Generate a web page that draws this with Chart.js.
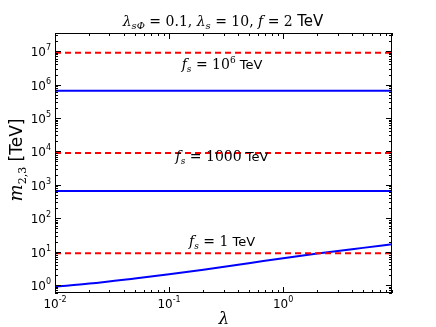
<!DOCTYPE html>
<html lang="en">
<head>
<meta charset="UTF-8">
<title>m23 vs lambda</title>
<script src="https://cdn.jsdelivr.net/npm/chart.js"></script>
<style>
  body { margin: 0; background: #fff; }
  #wrap { width: 436px; height: 327px; }
</style>
</head>
<body>
<div id="wrap"><canvas id="myChart" width="436" height="327"></canvas></div>
<script>
// values
const lambdaVals = [0.01, 0.02, 0.05, 0.1, 0.2, 0.5, 1, 2, 5, 9];
const m23_fs1 = [0.9, 1.11, 1.58, 2.1, 2.87, 4.5, 6.4, 8.8, 13.0, 16.6];
const lambdaEnds = [0.01, 9];
const m23_fs1000 = [650, 650];
const m23_fs1e6 = [6.5e5, 6.5e5];
const redLevels = [9, 9e3, 9e6];
const xTickExps = [-2, -1, 0];
const yTickExps = [0, 1, 2, 3, 4, 5, 6, 7];
const curveLabels = [
  { y: 2.9e6, text: '10', sup: '6' },
  { y: 5e3, text: '1000' },
  { y: 15, text: '1' }
];

const MATH = '"DejaVu Serif", serif';
const SANS = '"DejaVu Sans", sans-serif';

function pts(xs, ys) {
  return xs.map((x, i) => ({ x: x, y: ys[i] }));
}

// draw a row of text pieces with mixed fonts / sub- and superscripts
function drawRuns(ctx, runs, x, y, align) {
  let w = 0;
  runs.forEach(r => { ctx.font = r.f; w += ctx.measureText(r.t).width; });
  let cx = align === 'right' ? x - w : align === 'left' ? x : x - w / 2;
  runs.forEach(r => {
    ctx.font = r.f;
    ctx.fillText(r.t, cx, y + (r.dy || 0));
    cx += ctx.measureText(r.t).width;
  });
}

const decor = {
  id: 'decor',
  afterDraw(chart) {
    const ctx = chart.ctx;
    const a = chart.chartArea;
    const xs = chart.scales.x, ys = chart.scales.y;
    ctx.save();
    ctx.strokeStyle = '#000';
    ctx.fillStyle = '#000';
    ctx.lineWidth = 1;

    // frame
    ctx.strokeRect(a.left + 0.5, a.top + 0.5, a.right - a.left - 1, a.bottom - a.top - 1);

    // inward ticks, all four sides
    ctx.beginPath();
    for (let k = -2; k <= 0; k++) {
      for (let m = 1; m <= 9; m++) {
        const v = m * Math.pow(10, k);
        if (v < xs.min || v > xs.max) continue;
        const px = Math.round(xs.getPixelForValue(v)) + 0.5;
        const len = m === 1 ? 6 : 3;
        ctx.moveTo(px, a.bottom); ctx.lineTo(px, a.bottom - len);
        ctx.moveTo(px, a.top); ctx.lineTo(px, a.top + len);
      }
    }
    for (let k = -1; k <= 7; k++) {
      for (let m = 1; m <= 9; m++) {
        const v = m * Math.pow(10, k);
        if (v < ys.min || v > ys.max) continue;
        const py = Math.round(ys.getPixelForValue(v)) + 0.5;
        const len = m === 1 ? 6 : 3;
        ctx.moveTo(a.left, py); ctx.lineTo(a.left + len, py);
        ctx.moveTo(a.right, py); ctx.lineTo(a.right - len, py);
      }
    }
    ctx.stroke();

    // tick labels
    ctx.textBaseline = 'alphabetic';
    xTickExps.forEach(e => {
      const px = xs.getPixelForValue(Math.pow(10, e));
      drawRuns(ctx, [
        { t: '10', f: '12px ' + SANS },
        { t: String(e), f: '8px ' + SANS, dy: -6 }
      ], px, a.bottom + 15, 'center');
    });
    yTickExps.forEach(e => {
      const py = ys.getPixelForValue(Math.pow(10, e));
      drawRuns(ctx, [
        { t: '10', f: '12px ' + SANS },
        { t: String(e), f: '8px ' + SANS, dy: -6 }
      ], a.left - 4, py + 5, 'right');
    });

    // title
    drawRuns(ctx, [
      { t: 'λ', f: 'italic 14px ' + MATH },
      { t: 'sΦ', f: 'italic 10px ' + MATH, dy: 3 },
      { t: ' = 0.1, ', f: '14px ' + MATH },
      { t: 'λ', f: 'italic 14px ' + MATH },
      { t: 's', f: 'italic 10px ' + MATH, dy: 3 },
      { t: ' = 10, ', f: '14px ' + MATH },
      { t: 'f', f: 'italic 14px ' + MATH },
      { t: ' = 2 ', f: '14px ' + MATH },
      { t: 'TeV', f: '15px ' + SANS }
    ], 223, 26, 'center');

    // curve labels
    curveLabels.forEach(c => {
      const py = ys.getPixelForValue(c.y);
      const runs = [
        { t: 'f', f: 'italic 14px ' + MATH },
        { t: 's', f: 'italic 9px ' + MATH, dy: 3 },
        { t: ' = ' + c.text, f: '14px ' + MATH }
      ];
      if (c.sup) runs.push({ t: c.sup, f: '9px ' + MATH, dy: -6 });
      runs.push({ t: ' TeV', f: '13px ' + SANS });
      drawRuns(ctx, runs, 222, py, 'center');
    });

    // x axis title
    drawRuns(ctx, [{ t: 'λ', f: 'italic 17px ' + MATH }], 224, 324, 'center');

    // y axis title
    ctx.translate(22, 160);
    ctx.rotate(-Math.PI / 2);
    drawRuns(ctx, [
      { t: 'm', f: 'italic 18px ' + MATH },
      { t: '2,3', f: '11px ' + MATH, dy: 4 },
      { t: ' [TeV]', f: '17px ' + SANS }
    ], 0, 0, 'center');
    ctx.restore();
  }
};

const ctx = document.getElementById('myChart').getContext('2d');
const myChart = new Chart(ctx, {
  type: 'line',
  data: {
    datasets: [
      { data: pts(lambdaEnds, [redLevels[0], redLevels[0]]), borderColor: '#ff0000', borderDash: [6, 4] },
      { data: pts(lambdaEnds, [redLevels[1], redLevels[1]]), borderColor: '#ff0000', borderDash: [6, 4] },
      { data: pts(lambdaEnds, [redLevels[2], redLevels[2]]), borderColor: '#ff0000', borderDash: [6, 4] },
      { data: pts(lambdaVals, m23_fs1), borderColor: '#0000ff', cubicInterpolationMode: 'monotone' },
      { data: pts(lambdaEnds, m23_fs1000), borderColor: '#0000ff' },
      { data: pts(lambdaEnds, m23_fs1e6), borderColor: '#0000ff' }
    ]
  },
  options: {
    responsive: false,
    animation: false,
    devicePixelRatio: 1,
    layout: { padding: { left: 55, right: 44, top: 33, bottom: 34 } },
    elements: {
      point: { radius: 0 },
      line: { borderWidth: 2, fill: false }
    },
    plugins: { legend: { display: false }, tooltip: { enabled: false } },
    scales: {
      x: { type: 'logarithmic', min: 0.01, max: 9, display: false },
      y: { type: 'logarithmic', min: 0.58, max: 3.5e7, display: false }
    }
  },
  plugins: [decor]
});
</script>
</body>
</html>
